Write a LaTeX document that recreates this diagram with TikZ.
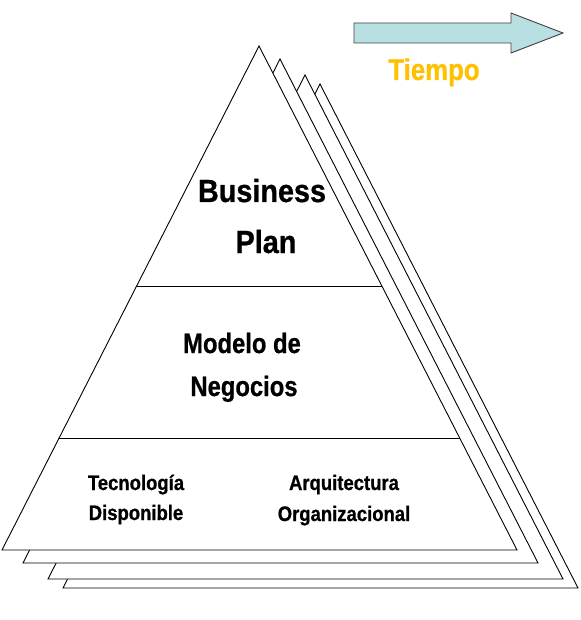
\documentclass[tikz,border=0pt]{standalone}
\usepackage{fontspec}
\setmainfont{Liberation Sans}[BoldFeatures={FakeBold=0.8}]
\definecolor{arrowfill}{HTML}{B8DFE1}
\definecolor{arrowline}{HTML}{404040}
\definecolor{tiempo}{HTML}{FFC000}
\tikzset{
  tri/.style={draw=black, line width=0.9pt, fill=white, line join=miter},
  divider/.style={draw=black, line width=0.9pt},
  timearrow/.style={draw=arrowline, line width=0.9pt, fill=arrowfill},
  lbl/.style={anchor=base, inner sep=0pt, font=\bfseries},
}
\begin{document}
\begin{tikzpicture}[x=1pt, y=-1pt]
\useasboundingbox (0,0) rectangle (580,620);
% stacked pyramids, back to front
\foreach \dx/\dy in {61/38, 46/29, 21/13, 0/0}
  \draw[tri, shift={(\dx,\dy)}] (259,46) -- (517,550) -- (2,550) -- cycle;
% dividers
\draw[divider] (136.6,286) -- (381.8,286);
\draw[divider] (59.3,438) -- (460.3,438);
% time arrow
\draw[timearrow] (354,23) -- (511,23) -- (511,13) -- (563,33) -- (511,53) -- (511,43) -- (354,43) -- cycle;
\node[lbl, text=tiempo, font=\bfseries\fontsize{30}{30}\selectfont, xscale=0.86] (tiempo) at (434,80) {Tiempo};
% labels
\node[lbl, font=\bfseries\fontsize{32}{32}\selectfont, xscale=0.9] (business) at (262,202) {Business};
\node[lbl, font=\bfseries\fontsize{32}{32}\selectfont, xscale=0.9] (plan) at (266,253) {Plan};
\node[lbl, font=\bfseries\fontsize{28}{28}\selectfont, xscale=0.85] (modelo) at (242,353) {Modelo de};
\node[lbl, font=\bfseries\fontsize{28}{28}\selectfont, xscale=0.85] (negocios) at (244,396) {Negocios};
\node[lbl, font=\bfseries\fontsize{21}{21}\selectfont, xscale=0.88] (tecno) at (136,490) {Tecnología};
\node[lbl, font=\bfseries\fontsize{21}{21}\selectfont, xscale=0.88] (dispo) at (136,520) {Disponible};
\node[lbl, font=\bfseries\fontsize{21}{21}\selectfont, xscale=0.88] (arqui) at (344,490) {Arquitectura};
\node[lbl, font=\bfseries\fontsize{21}{21}\selectfont, xscale=0.88] (organ) at (344,521) {Organizacional};
\end{tikzpicture}
\end{document}
